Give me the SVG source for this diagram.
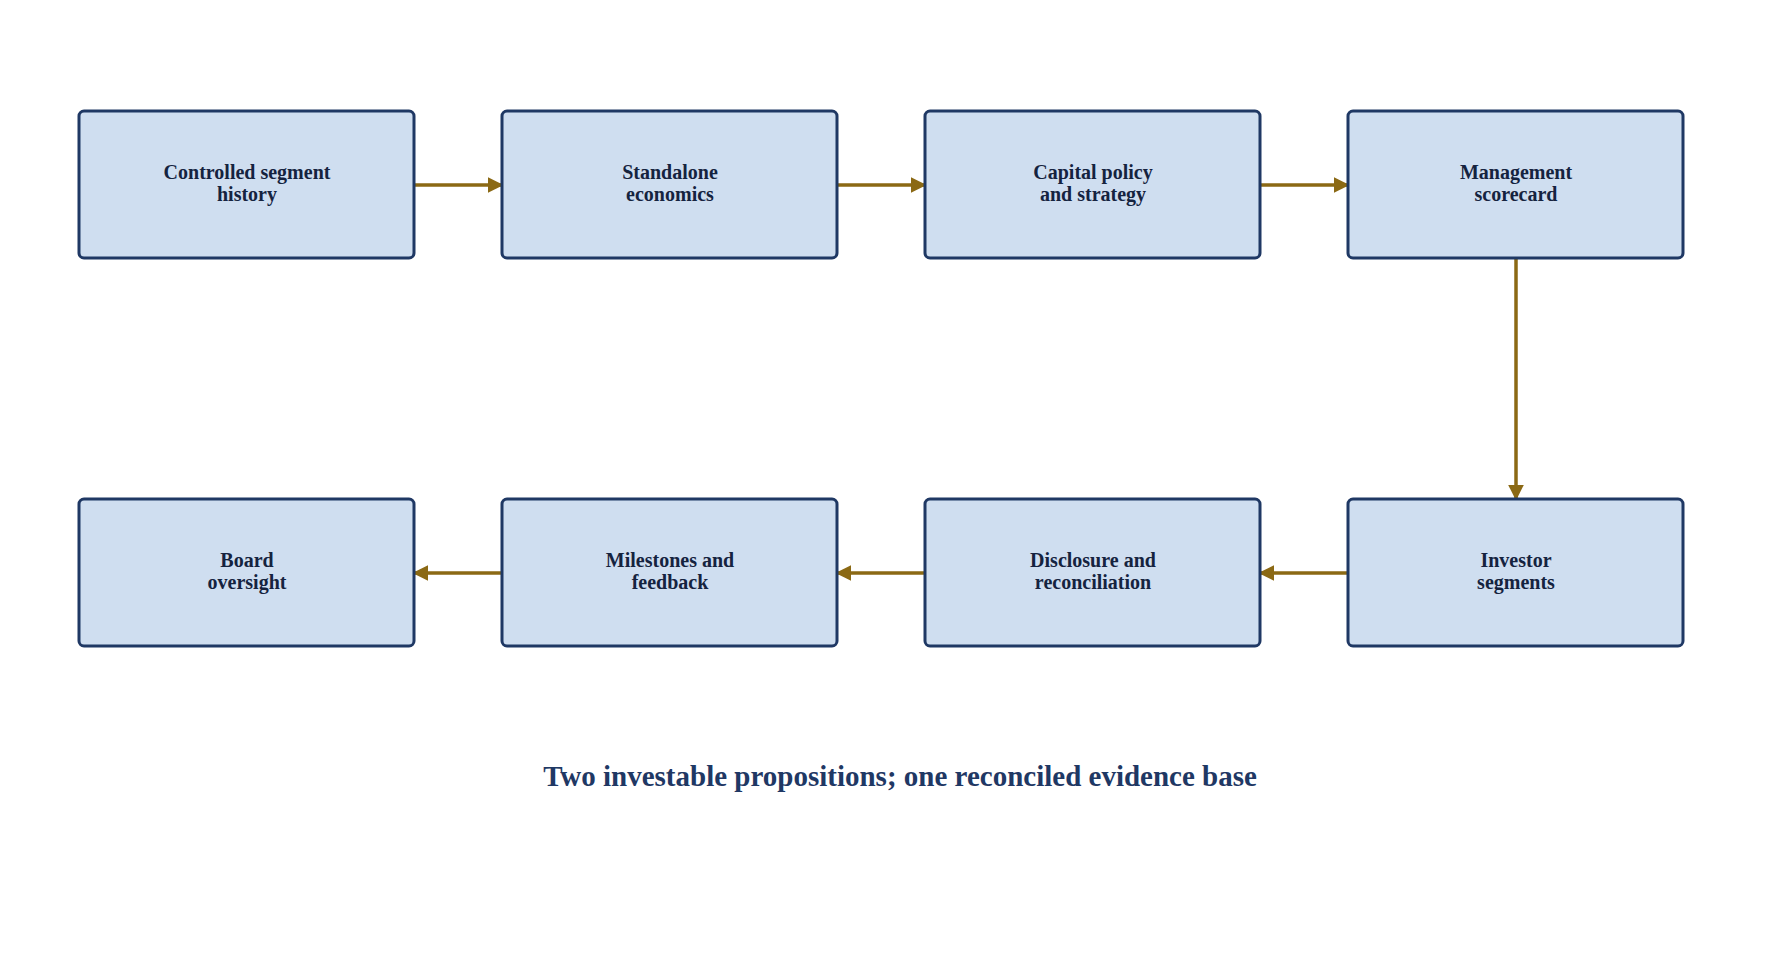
<svg xmlns="http://www.w3.org/2000/svg" width="1790" height="962" viewBox="0 0 1790 962">
<style>
.n rect{fill:#cfdef0;stroke:#1f3864;stroke-width:3}
.n text{font-family:"Liberation Serif",serif;font-weight:bold;font-size:20px;fill:#15233f;text-anchor:middle}
.c line{stroke:#8b6914;stroke-width:3.5;marker-end:url(#a)}
</style>
<defs><marker id="a" viewBox="0 0 10 10" refX="9" refY="5" markerWidth="4.5" markerHeight="4.5" orient="auto"><path d="M0,0L10,5L0,10z" fill="#8b6914"/></marker></defs>
<rect width="1790" height="962" fill="#fff"/>
<g class="c">
<line x1="410" y1="185" x2="502" y2="185"/>
<line x1="833" y1="185" x2="925" y2="185"/>
<line x1="1256" y1="185" x2="1348" y2="185"/>
<line x1="1516" y1="255" x2="1516" y2="499"/>
<line x1="1352" y1="573" x2="1260" y2="573"/>
<line x1="929" y1="573" x2="837" y2="573"/>
<line x1="506" y1="573" x2="414" y2="573"/>
</g>
<g id="n1" class="n"><rect x="79" y="111" width="335" height="147" rx="5"/><text x="247" y="179">Controlled segment</text><text x="247" y="201">history</text></g>
<g id="n2" class="n"><rect x="502" y="111" width="335" height="147" rx="5"/><text x="670" y="179">Standalone</text><text x="670" y="201">economics</text></g>
<g id="n3" class="n"><rect x="925" y="111" width="335" height="147" rx="5"/><text x="1093" y="179">Capital policy</text><text x="1093" y="201">and strategy</text></g>
<g id="n4" class="n"><rect x="1348" y="111" width="335" height="147" rx="5"/><text x="1516" y="179">Management</text><text x="1516" y="201">scorecard</text></g>
<g id="n5" class="n"><rect x="1348" y="499" width="335" height="147" rx="5"/><text x="1516" y="567">Investor</text><text x="1516" y="589">segments</text></g>
<g id="n6" class="n"><rect x="925" y="499" width="335" height="147" rx="5"/><text x="1093" y="567">Disclosure and</text><text x="1093" y="589">reconciliation</text></g>
<g id="n7" class="n"><rect x="502" y="499" width="335" height="147" rx="5"/><text x="670" y="567">Milestones and</text><text x="670" y="589">feedback</text></g>
<g id="n8" class="n"><rect x="79" y="499" width="335" height="147" rx="5"/><text x="247" y="567">Board</text><text x="247" y="589">oversight</text></g>
<text x="900" y="786" font-family="Liberation Serif,serif" font-weight="bold" font-size="29" fill="#1f3864" text-anchor="middle">Two investable propositions; one reconciled evidence base</text>
</svg>
